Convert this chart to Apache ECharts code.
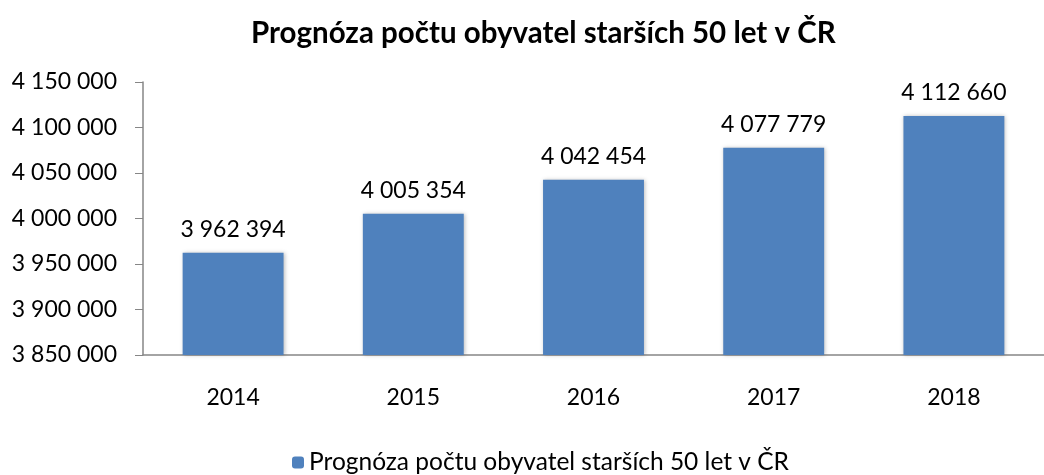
<!DOCTYPE html>
<html>
<head>
<meta charset="utf-8">
<script src="https://cdn.jsdelivr.net/npm/echarts@6/dist/echarts.min.js"></script>
<style>
  html, body { margin: 0; padding: 0; background: #fff; }
  #chartBox { width: 1044px; height: 475px; }
</style>
</head>
<body>
<div id="chartBox"></div>
<script>
var years = ['2014', '2015', '2016', '2017', '2018'];
var population = [3962394, 4005354, 4042454, 4077779, 4112660];
var seriesName = 'Prognóza počtu obyvatel starších 50 let v ČR';
var titleText = 'Prognóza počtu obyvatel starších 50 let v ČR';

// 4150000 -> "4 150 000"
function spaced(v) {
    return String(Math.round(v)).replace(/\B(?=(\d{3})+(?!\d))/g, ' ');
}

var dom = document.getElementById('chartBox');
var myChart = echarts.init(dom);

var option = {
    textStyle: {fontFamily: 'Lato'},
    title: {
        text: titleText,
        left: 246,
        top: 13,
        textStyle: {fontFamily: 'Lato', fontWeight: 'bold', fontSize: 29.5, color: '#000'}
    },
    legend: {
        data: [seriesName],
        bottom: -5,
        left: 287,
        itemWidth: 12,
        itemHeight: 12,
        itemGap: 8,
        textStyle: {fontFamily: 'Lato', fontSize: 24.5, color: '#000'}
    },
    grid: {left: 143, right: -14, top: 82, bottom: 120, containLabel: false},
    xAxis: {
        type: 'category',
        data: years,
        axisLine: {lineStyle: {color: '#868686', width: 1.5}},
        axisTick: {show: false},
        axisLabel: {margin: 31, fontSize: 23, color: '#000', fontFamily: 'Lato'}
    },
    yAxis: {
        type: 'value',
        min: 3850000,
        max: 4150000,
        interval: 50000,
        axisLine: {show: true, lineStyle: {color: '#868686', width: 1.5}},
        axisTick: {show: true, length: 8, lineStyle: {color: '#868686'}},
        splitLine: {show: false},
        axisLabel: {
            margin: 26,
            fontSize: 23,
            color: '#000',
            fontFamily: 'Lato',
            formatter: spaced
        }
    },
    series: [{
        name: seriesName,
        type: 'bar',
        data: population,
        barWidth: '56%',
        itemStyle: {
            color: '#4F81BD',
            shadowColor: 'rgba(0,0,0,0.25)',
            shadowBlur: 4,
            shadowOffsetX: 1,
            shadowOffsetY: 0
        },
        label: {
            show: true,
            position: 'top',
            distance: 12,
            fontSize: 23,
            color: '#000',
            fontFamily: 'Lato',
            formatter: function (p) { return spaced(p.value); }
        }
    }]
};

myChart.setOption(option);
</script>
</body>
</html>
